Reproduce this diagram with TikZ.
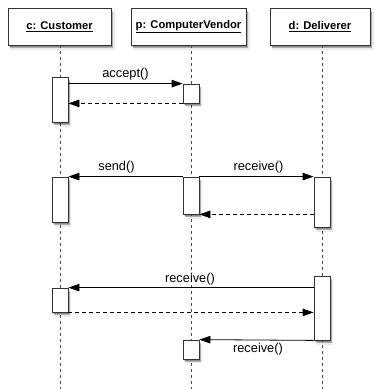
\documentclass[tikz,border=0pt]{standalone}
\usepackage{fontspec}
\setmainfont{Liberation Sans}
\usetikzlibrary{arrows.meta,shadows}
\begin{document}
\begin{tikzpicture}[x=1pt,y=-1pt,
  softshadow/.style={
    general shadow={shadow xshift=3.0pt,shadow yshift=-4.2pt,shadow scale=1.02,fill=black,opacity=0.08},
    general shadow={shadow xshift=2.4pt,shadow yshift=-3.4pt,fill=black,opacity=0.12},
    general shadow={shadow xshift=1.6pt,shadow yshift=-2.5pt,fill=black,opacity=0.16},
    general shadow={shadow xshift=0.8pt,shadow yshift=-1.5pt,fill=black,opacity=0.20}},
  objbox/.style={draw=black!80,line width=0.8pt,fill=white,softshadow,
    minimum height=37pt,inner sep=0pt,font=\fontsize{11.2}{13}\selectfont\bfseries},
  actbox/.style={draw=black!80,line width=0.8pt,fill=white,softshadow,
    minimum width=16pt,inner sep=0pt},
  lifeline/.style={draw=black!70,line width=0.7pt,dash pattern=on 3pt off 3pt},
  call/.style={draw=black,line width=0.8pt,-{Triangle[length=11pt,width=7.5pt]}},
  reply/.style={draw=black,line width=0.8pt,dash pattern=on 4pt off 3pt,-{Triangle[length=11pt,width=7.5pt]}},
  msglabel/.style={font=\fontsize{12.8}{15}\selectfont,inner sep=1pt}]
\useasboundingbox (0,0) rectangle (374,389);

% object headers
\node[objbox,minimum width=103pt] (cust) at (59.5,26.5) {\underline{c: Customer}};
\node[objbox,minimum width=115pt] (vend) at (188.5,26.5) {\underline{p: ComputerVendor}};
\node[objbox,minimum width=100pt] (deliv) at (320,26.5) {\underline{d: Deliverer}};

% lifeline ends
\coordinate (custend) at (60,389);
\coordinate (vendend) at (191,389);
\coordinate (delivend) at (322,389);

\draw[lifeline] (cust.south -| custend) -- (custend);
\draw[lifeline] (vend.south -| vendend) -- (vendend);
\draw[lifeline] (deliv.south -| delivend) -- (delivend);

% activation bars
\node[actbox,minimum height=45pt] (c1) at (60,99.5) {};
\node[actbox,minimum height=19pt] (v1) at (191,93.5) {};
\node[actbox,minimum height=45pt] (c2) at (60,199.5) {};
\node[actbox,minimum height=37pt] (v2) at (191,195.5) {};
\node[actbox,minimum height=50pt] (d2) at (322,202) {};
\node[actbox,minimum height=64pt] (d3) at (322,308) {};
\node[actbox,minimum height=24pt] (c3) at (60,300) {};
\node[actbox,minimum height=19pt] (v3) at (191,349.5) {};

% messages
\draw[call] (c1.east |- v1.north) -- node[msglabel,above=2pt] {accept()} (v1.north west);
\draw[reply] (v1.south west) -- (c1.east |- v1.south);

\draw[call] (v2.north west) -- node[msglabel,above=2pt,xshift=-9pt] {send()} (c2.north east);
\draw[call] (v2.north east) -- node[msglabel,above=2pt,xshift=2pt] {receive()} (d2.north west);
\draw[reply] (d2.west |- v2.south) -- (v2.south east);

\draw[call] (d3.west |- c3.north) -- node[msglabel,above=1pt,xshift=-1pt] {receive()} (c3.north east);
\draw[reply] (c3.south east) -- (d3.west |- c3.south);

\draw[call] (d3.south west) -- node[msglabel,below=2pt,xshift=1.5pt] {receive()} (v3.north east);
\end{tikzpicture}
\end{document}
